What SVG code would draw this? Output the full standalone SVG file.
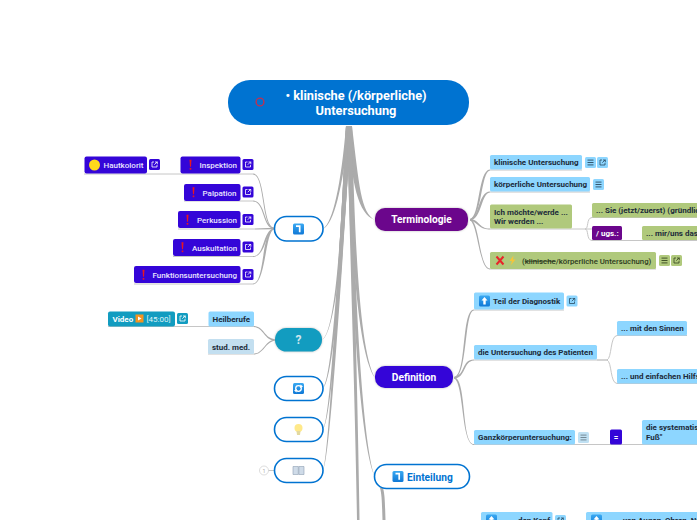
<svg xmlns="http://www.w3.org/2000/svg" width="697" height="520" viewBox="0 0 697 520">
<style>
text{font-family:Roboto,"Liberation Sans",sans-serif}
.l{font-size:8px;font-weight:700;fill:#1c2b3a}
.w{font-size:8px;font-weight:500;fill:#e9e4ff}
.t{font-size:10.2px;font-weight:700;fill:#fff;text-anchor:middle}
.c{fill:none;stroke:#c6c6c6;stroke-width:1}
.b{fill:#ababab;stroke:none}
.hb{fill:#8dd6ff}.gr{fill:#b0c97c}.pu{fill:#3405d8}.tl{fill:#129cc0}.vi{fill:#6b068c}
.o{fill:#fff;stroke:#0073d1;stroke-width:1.6}
.halo{filter:drop-shadow(0 0 1.2px #bbb)}
</style>
<defs>
<linearGradient id="bg" x1="0" y1="0" x2="0" y2="1"><stop offset="0" stop-color="#3aa9f2"/><stop offset="1" stop-color="#0f78d6"/></linearGradient>
<g id="lk"><path d="M-2.5-1V2.5H2.5V0.5M-0.5-2.5H-2.5V-1M0.5-2.5H2.8V-0.2M2.8-2.8L-0.2,0.2" fill="none" stroke-width="0.8"/></g>
<g id="mn"><path d="M-3-2.4H3M-3,0H3M-3,2.4H3" fill="none" stroke-width="0.9"/></g>
<g id="ex"><path d="M-1-5.2H1L0.5,1.8H-0.5Z" fill="#e8171f"/><rect x="-0.8" y="3" width="1.6" height="1.7" fill="#e8171f"/></g>
<g id="ti"><rect x="-5.5" y="-5.5" width="11" height="11" rx="1.5" fill="url(#bg)"/><path d="M-2.500-2.800H1.200V3.200" fill="none" stroke="#fff" stroke-width="1.700"/></g>
<g id="ua"><rect x="-5.5" y="-5.5" width="11" height="11" rx="1.5" fill="url(#bg)"/><path d="M0-4L3,-0.5H1.200V3.500H-1.200V-0.500H-3Z" fill="#fff"/></g>
</defs>

<g id="connectors">
<path class="b" d="M346,126C341,185 333,222 323,229C334,224 342,190 350,126Z"/>
<path class="b" d="M346,126C340,262 334,332 322,340C334,334 343,262 350,126Z"/>
<path class="b" d="M346,126C338,290 331,378 323,388C332,382 341,290 351,126Z"/>
<path class="b" d="M346,126C337,300 330,420 323,429C331,423 340,300 351,126Z"/>
<path class="b" d="M346,126C336,320 328,460 323,470C329,464 339,320 351,126Z"/>
<path class="b" d="M347,126C352,185 358,214 375,220C361,213 359,185 352,126Z"/>
<path class="b" d="M347,126C351,250 358,355 375,378C360,352 355,250 352,126Z"/>
<path class="b" d="M347,126C350,260 358,440 375,477C361,440 353,260 352,126Z"/>
<path class="b" d="M347,126C350,250 355,400 357,520H359.500C358,400 353,250 352,126Z"/>
<path class="b" d="M380,488C382,495 382,505 382.500,520H385.500C385,505 385,495 383,488Z"/>

<path class="c" d="M84,174H253"/>
<path class="c" d="M184,201H253"/>
<path class="c" d="M178,229H255"/>
<path class="c" d="M173,256.500H253"/>
<path class="c" d="M134,284H253"/>
<path class="b" d="M253,173.600C266,174 262,226 274,227.800V228.800C261,228 265,175 253,174.400Z"/>
<path class="b" d="M253,200.600C266,201 263,226 274,227.800V228.800C262,228 265,202 253,201.400Z"/>
<path class="b" d="M255,228.600L274,227.800V229.200L255,229.400Z"/>
<path class="b" d="M253,256.100C265,256.500 262,231 274,228.300V229.300C265,232 266,256.500 253,256.900Z"/>
<path class="b" d="M253,283.600C265,283.500 261,231 274,228.300V229.300C265,232 266,284 253,284.400Z"/>

<path class="c" d="M108,326.500H254"/>
<path class="c" d="M208,354H254"/>
<path class="b" d="M254,326.100C264,326.500 264,338 275,339.300V340.500C264,340 264,328 254,326.900Z"/>
<path class="b" d="M254,353.600C264,353 264,341 275,339.500V340.700C265,342 264,354 254,354.400Z"/>
<path class="c" d="M259.500,470.500H274"/>

<path class="c" d="M490,170H582"/>
<path class="c" d="M490,192H590"/>
<path class="c" d="M490,229H592"/>
<path class="c" d="M490,269H656"/>
<path class="b" d="M470,219C480,217 478,170 490,169.600V170.400C481,171 482,218 470,220.500Z"/>
<path class="b" d="M470,219C480,217 478,192 490,191.600V192.400C481,193 482,219 470,220.500Z"/>
<path class="b" d="M470,219C479,219 479,229 490,228.600V229.400C479,230 478,222 470,220.500Z"/>
<path class="b" d="M470,219C480,221 479,268 490,268.600V269.400C479,270 478,224 470,220.500Z"/>
<path class="c" d="M585,229C589,229 586,218 592,217.500H697"/>
<path class="c" d="M585,229C589,229 586,240 592,240.500H697"/>

<path class="c" d="M474,310H564"/>
<path class="c" d="M474,360H607"/>
<path class="c" d="M474,444.500H697"/>
<path class="b" d="M454,377C467,376 461,310 474,309.600V310.400C464,311 468,377 454,378.500Z"/>
<path class="b" d="M454,377C466,375 461,360 474,359.600V360.400C463,361 466,378 454,378.500Z"/>
<path class="b" d="M454,377C467,378 461,444 474,444.100V444.900C461,444.500 464,382 454,378.500Z"/>
<path class="c" d="M597,360H607C612,358 610,336 617,335.500H687"/>
<path class="c" d="M607,360C612,362 610,383 617,383.500H697"/>
</g>

<g id="root"><rect x="228" y="80" width="241" height="45" rx="22" fill="#0073d1"/>
<circle cx="260" cy="102" r="3.900" fill="none" stroke="#c0304f" stroke-width="1.400"/>
<text x="356" y="100" text-anchor="middle" font-size="12.800" font-weight="700" fill="#fff">• klinische (/körperliche)</text>
<text x="356" y="115" text-anchor="middle" font-size="12.800" font-weight="700" fill="#fff">Untersuchung</text></g>

<g id="n-pfeil"><rect class="o" x="274.500" y="216.500" width="48.500" height="24.500" rx="12"/><use href="#ti" x="298.500" y="229"/></g>

<g id="n-inspektion"><rect class="pu" x="180.500" y="156.500" width="60" height="17" rx="2"/><use href="#ex" x="190.500" y="165"/><text class="w" x="199.500" y="168">Inspektion</text>
<rect class="pu" x="242.500" y="159" width="11" height="11" rx="1.500"/><use href="#lk" x="248" y="164.500" stroke="#fff"/></g>
<g id="n-hautkolorit"><rect class="pu" x="84.500" y="156.500" width="62.500" height="17" rx="2"/><circle cx="94.500" cy="165" r="5.500" fill="#ffd91c"/><text class="w" x="103.500" y="168">Hautkolorit</text>
<rect class="pu" x="149" y="159" width="11" height="11" rx="1.500"/><use href="#lk" x="154.500" y="164.500" stroke="#fff"/></g>
<g id="n-palpation"><rect class="pu" x="184" y="184" width="56.500" height="17" rx="2"/><use href="#ex" x="193.500" y="192.500"/><text class="w" x="202.500" y="195.500">Palpation</text>
<rect class="pu" x="242.500" y="186.500" width="11" height="11" rx="1.500"/><use href="#lk" x="248" y="192" stroke="#fff"/></g>
<g id="n-perkussion"><rect class="pu" x="178" y="211" width="62.500" height="17" rx="2"/><use href="#ex" x="187.500" y="220"/><text class="w" x="197" y="223">Perkussion</text>
<rect class="pu" x="242.500" y="214" width="11" height="11" rx="1.500"/><use href="#lk" x="248" y="219.500" stroke="#fff"/></g>
<g id="n-auskultation"><rect class="pu" x="173" y="239" width="67.500" height="17" rx="2"/><use href="#ex" x="182.500" y="247.500"/><text class="w" x="192" y="250.500">Auskultation</text>
<rect class="pu" x="242.500" y="241.500" width="11" height="11" rx="1.500"/><use href="#lk" x="248" y="247" stroke="#fff"/></g>
<g id="n-funktion"><rect class="pu" x="134" y="266" width="106.500" height="17" rx="2"/><use href="#ex" x="143.500" y="275"/><text class="w" x="152.500" y="278">Funktionsuntersuchung</text>
<rect class="pu" x="242.500" y="269" width="11" height="11" rx="1.500"/><use href="#lk" x="248" y="274.500" stroke="#fff"/></g>

<g id="n-frage"><rect class="tl halo" x="275" y="328" width="47" height="23.500" rx="11.500"/><text x="298.500" y="344" text-anchor="middle" font-size="12" font-weight="700" fill="#cfe6ee">?</text></g>
<g id="n-heilberufe"><rect class="hb" x="208.500" y="311.500" width="45.500" height="15" rx="1.500"/><text class="l" x="212.500" y="322">Heilberufe</text></g>
<g id="n-stud"><rect x="208" y="339" width="46" height="15" rx="1.500" fill="#c3dff0"/><text class="l" x="212" y="350">stud. med.</text></g>
<g id="n-video"><rect class="tl" x="108" y="311.500" width="67" height="15" rx="2"/><text x="112.500" y="322" font-size="8" font-weight="700" fill="#fff">Video</text><rect x="135.500" y="314.500" width="8" height="8" fill="#f6931e"/><path d="M138,316.500L141.500,318.500L138,320.500Z" fill="#fff"/><text x="146.500" y="322" font-size="8" fill="#dff2f7">[45:00]</text>
<rect class="tl" x="177" y="313" width="11" height="11" rx="1.500"/><use href="#lk" x="182.500" y="318.500" stroke="#fff"/></g>

<g id="n-refresh"><rect class="o" x="274.500" y="376.500" width="48.500" height="24" rx="12"/><rect x="293" y="383" width="11" height="11" rx="1.500" fill="url(#bg)"/><circle cx="298.500" cy="388.500" r="2.800" fill="none" stroke="#fff" stroke-width="1.300"/><path d="M300.500,384.500L303,386.500L300,388ZM296.500,392.500L294,390.500L297,389Z" fill="#fff"/></g>
<g id="n-bulb"><rect class="o" x="274.500" y="417.500" width="48.500" height="24" rx="12"/><circle cx="298.500" cy="428" r="4" fill="#ffe98a"/><path d="M296.500,431H300.500L300,435H297Z" fill="#e3d9a0"/></g>
<g id="n-buch"><circle cx="264" cy="470.500" r="4.500" fill="#fff" stroke="#cfcfcf" stroke-width="0.700"/><text x="264" y="472.500" text-anchor="middle" font-size="5.500" fill="#aaa">1</text><rect class="o" x="274.500" y="458.500" width="48.500" height="24" rx="12"/><path d="M293,466.500H298.300V474.500H293ZM298.900,466.500H304V474.500H298.900Z" fill="#cfdbe8" stroke="#8fa0b3" stroke-width="0.600"/></g>

<g id="n-terminologie"><rect class="vi halo" x="375" y="208" width="93" height="23" rx="10"/><text class="t" x="421.500" y="223">Terminologie</text></g>
<g id="n-klinisch"><rect class="hb" x="490" y="155" width="92" height="14.500" rx="1.500"/><text class="l" x="494" y="165">klinische Untersuchung</text>
<rect class="hb" x="585" y="157" width="11" height="11" rx="1.500"/><use href="#mn" x="590.500" y="162.500" stroke="#2a4a60"/><rect class="hb" x="597" y="157" width="11" height="11" rx="1.500"/><use href="#lk" x="602.500" y="162.500" stroke="#2a4a60"/></g>
<g id="n-koerperlich"><rect class="hb" x="490" y="177" width="100" height="14.500" rx="1.500"/><text class="l" x="494" y="187">körperliche Untersuchung</text>
<rect class="hb" x="593" y="179" width="11" height="11" rx="1.500"/><use href="#mn" x="598.500" y="184.500" stroke="#2a4a60"/></g>
<g id="n-ich"><rect class="gr" x="490" y="204.500" width="82" height="24" rx="1.500"/><text class="l" x="494" y="215">Ich möchte/werde ...</text><text class="l" x="494" y="224">Wir werden ...</text></g>
<g id="n-sie"><rect class="gr" x="592" y="203" width="110" height="14.500" rx="1.500"/><text class="l" x="596" y="213">... Sie (jetzt/zuerst) (gründlich</text></g>
<g id="n-ugs"><rect class="vi" x="592" y="226" width="30" height="14" rx="1.500"/><text x="596" y="236" font-size="8" font-weight="700" fill="#fff">/ ugs.:</text></g>
<g id="n-mir"><rect class="gr" x="642" y="226" width="60" height="14" rx="1.500"/><text class="l" x="646" y="236">... mir/uns das</text></g>
<g id="n-kreuz"><rect class="gr" x="490" y="252" width="166" height="17" rx="1.500"/><path d="M496.500,256.500L503.500,264.500M503.500,256.500L496.500,264.500" stroke="#e8252a" stroke-width="2"/><path d="M513.500,255.500L509.500,261H512L510.500,265.500L515.500,259.500H513Z" fill="#f5c53a"/><text x="522" y="263.500" font-size="7.800" font-weight="500" fill="#2c3a20">(<tspan text-decoration="line-through">klinische</tspan>/körperliche Untersuchung)</text>
<rect class="gr" x="659" y="255" width="11" height="11" rx="1.500"/><use href="#mn" x="664.500" y="260.500" stroke="#36451e"/><rect class="gr" x="671" y="255" width="11" height="11" rx="1.500"/><use href="#lk" x="676.500" y="260.500" stroke="#36451e"/></g>

<g id="n-definition"><rect class="pu halo" x="375" y="366" width="78" height="22" rx="10"/><text class="t" x="414" y="381">Definition</text></g>
<g id="n-teil"><rect class="hb" x="474" y="292.500" width="90" height="17" rx="1.500"/><use href="#ua" x="484.500" y="301"/><text class="l" x="493" y="304">Teil der Diagnostik</text>
<rect class="hb" x="566.500" y="295.500" width="11" height="11" rx="1.500"/><use href="#lk" x="572" y="301" stroke="#2a4a60"/></g>
<g id="n-patient"><rect class="hb" x="474" y="345" width="123" height="14.500" rx="1.500"/><text class="l" x="478" y="355">die Untersuchung des Patienten</text></g>
<g id="n-sinne"><rect class="hb" x="617" y="321" width="70" height="14.500" rx="1.500"/><text class="l" x="621" y="331">... mit den Sinnen</text></g>
<g id="n-hilf"><rect class="hb" x="617" y="369" width="85" height="14.500" rx="1.500"/><text class="l" x="621" y="379">... und einfachen Hilfsmitteln</text></g>
<g id="n-ganz"><rect class="hb" x="474" y="430" width="101" height="14.500" rx="1.500"/><text class="l" x="478" y="440">Ganzkörperuntersuchung:</text>
<rect x="578" y="432" width="11" height="11" rx="1.500" fill="#c0e0f2"/><use href="#mn" x="583.500" y="437.500" stroke="#6b7f8c"/></g>
<g id="n-gleich"><rect class="pu" x="610" y="429.500" width="12" height="15" rx="1.500"/><text x="616" y="440" text-anchor="middle" font-size="8" font-weight="700" fill="#fff">=</text></g>
<g id="n-system"><rect class="hb" x="642" y="420" width="60" height="24.500" rx="1.500"/><text class="l" x="646" y="430">die systematische</text><text class="l" x="646" y="440">Fuß"</text></g>

<g id="n-einteilung"><rect class="o" x="374.500" y="464.500" width="95" height="24" rx="12"/><use href="#ti" x="398" y="476.500"/><text x="407" y="480.500" font-size="10.200" font-weight="700" fill="#0073d1">Einteilung</text></g>

<g id="n-kopf"><rect class="hb" x="481" y="512" width="71.500" height="12" rx="1.500"/><use href="#ua" x="491.500" y="520"/><text class="l" x="509" y="523">... den Kopf</text><rect class="hb" x="555" y="515" width="11" height="11" rx="1.500"/><use href="#lk" x="560.500" y="520.500" stroke="#2a4a60"/></g>
<g id="n-augen"><rect class="hb" x="586" y="512" width="116" height="12" rx="1.500"/><use href="#ua" x="596.500" y="520"/><text class="l" x="614" y="523">... von Augen, Ohren, Nase</text></g>
</svg>
